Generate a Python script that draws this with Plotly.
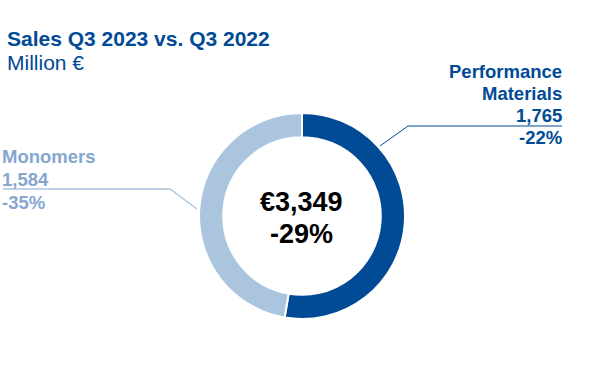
import plotly.graph_objects as go

W, H = 593, 371

categories = ["Performance Materials", "Monomers"]
sales = [1765, 1584]
changes = ["-22%", "-35%"]
total_label = "€3,349"
total_change = "-29%"
title = "Sales Q3 2023 vs. Q3 2022"
subtitle = "Million €"

DARK = "#004A96"
LIGHT = "#ABC5DF"
LIGHT_TEXT = "#86A6CF"

def px(x):
    return x / W

def py(y):
    return 1 - y / H

cx, cy, r = 302, 216, 103

fig = go.Figure(go.Pie(
    labels=categories,
    values=sales,
    hole=0.765,
    sort=False,
    direction="clockwise",
    rotation=0,
    marker=dict(colors=[DARK, LIGHT], line=dict(color="white", width=2)),
    textinfo="none",
    hoverinfo="label+value",
    domain=dict(x=[px(cx - r), px(cx + r)], y=[py(cy + r), py(cy - r)]),
    showlegend=False,
))

font = "Liberation Sans, Arial, sans-serif"
ann = []
def add(text, x, y, size, color, bold=True, xanchor="left"):
    t = f"<b>{text}</b>" if bold else text
    ann.append(dict(text=t, x=px(x), y=py(y), xref="paper", yref="paper",
                    xanchor=xanchor, yanchor="middle", showarrow=False,
                    borderpad=0, borderwidth=0,
                    font=dict(family=font, size=size, color=color)))

add(title, 7, 38, 21, DARK)
add(subtitle, 7, 62, 21, DARK, bold=False)

pm_lines = ["Performance", "Materials", f"{sales[0]:,}", changes[0]]
for i, t in enumerate(pm_lines):
    add(t, 562, 71 + i * 22.3, 18.5, DARK, xanchor="right")

mo_lines = [categories[1], f"{sales[1]:,}", changes[1]]
for i, t in enumerate(mo_lines):
    add(t, 2, 157 + i * 22.5, 18.5, LIGHT_TEXT)

add(total_label, cx, 202, 27, "black", xanchor="center")
add(total_change, cx, 234, 27, "black", xanchor="center")

shapes = [
    dict(type="path", xref="paper", yref="paper",
         path=f"M {px(380)} {py(146)} L {px(408)} {py(126)} L {px(562)} {py(126)}",
         line=dict(color=DARK, width=1)),
    dict(type="path", xref="paper", yref="paper",
         path=f"M {px(3)} {py(189)} L {px(170)} {py(189)} L {px(197)} {py(209)}",
         line=dict(color=LIGHT, width=1.3)),
]

fig.update_layout(
    width=W, height=H,
    margin=dict(l=0, r=0, t=0, b=0),
    paper_bgcolor="white", plot_bgcolor="white",
    annotations=ann, shapes=shapes,
)

fig.write_html("out.html", config={"displayModeBar": False},
               post_script="document.body.style.margin='0';")
